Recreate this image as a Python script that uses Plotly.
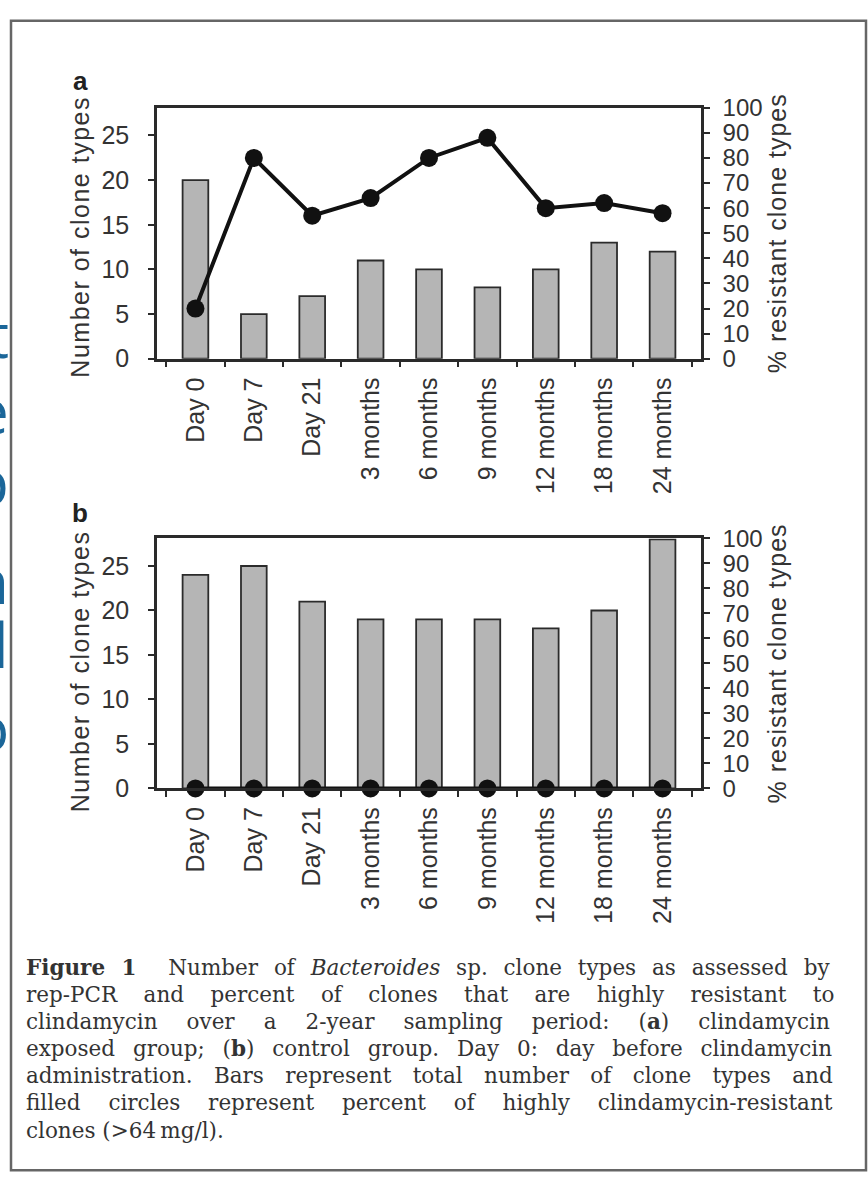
import plotly.graph_objects as go

W, H = 868, 1195

categories = ["Day 0", "Day 7", "Day 21", "3 months", "6 months", "9 months",
              "12 months", "18 months", "24 months"]
clones_a = [20, 5, 7, 11, 10, 8, 10, 13, 12]
resist_a = [20, 80, 57, 64, 80, 88, 60, 62, 58]
clones_b = [24, 25, 21, 19, 19, 19, 18, 20, 28]
resist_b = [0, 0, 0, 0, 0, 0, 0, 0, 0]
left_ticks = [0, 5, 10, 15, 20, 25]
right_ticks = [0, 10, 20, 30, 40, 50, 60, 70, 80, 90, 100]

caption_lines = [
    "<b>Figure 1</b>\u00a0\u00a0Number of <i>Bacteroides</i> sp. clone types as assessed by",
    "rep-PCR and percent of clones that are highly resistant to",
    "clindamycin over a 2-year sampling period: (<b>a</b>) clindamycin",
    "exposed group; (<b>b</b>) control group. Day 0: day before clindamycin",
    "administration. Bars represent total number of clone types and",
    "filled circles represent percent of highly clindamycin-resistant",
    "clones (>64\u2009mg/l).",
]
# extra word spacing (px) per caption line, to imitate the justified block
caption_wordspacing = [9.0, 19.6, 22.2, 11.0, 14.6, 21.0, 0]
side_letters = ["t", "e", "p", "n", "l", "o"]

AX = "#2a2a2a"
TXT = "#333333"
SANS = "Liberation Sans, Arial, sans-serif"
SERIF = "DejaVu Serif, serif"
BAR = "#b5b5b5"

def px_x(v):
    return v / W

def px_y(v):
    return 1 - v / H

x_dom = [px_x(157), px_x(701)]
dom_a = [px_y(353), px_y(96)]
dom_b = [px_y(793), px_y(537)]
LMAX = 28.1

fig = go.Figure()

def add_panel(clones, resist, xa, ya, yr):
    xs = "x" if xa == 1 else f"x{xa}"
    fig.add_trace(go.Bar(
        x=categories, y=clones, xaxis=xs, yaxis=f"y{ya}" if ya > 1 else "y",
        width=0.44, marker=dict(color=BAR, line=dict(color="#2b2b2b", width=1.8)),
        showlegend=False))
    fig.add_trace(go.Scatter(
        x=categories, y=resist, xaxis=xs, yaxis=f"y{yr}",
        mode="lines+markers", line=dict(color="#111111", width=4),
        marker=dict(color="#111111", size=18), cliponaxis=False,
        showlegend=False))

add_panel(clones_a, resist_a, 1, 1, 2)
add_panel(clones_b, resist_b, 2, 5, 6)

tickfont = dict(family=SANS, size=25, color=TXT)
rtickfont = dict(family=SANS, size=24, color=TXT)
xtickfont = dict(family=SANS, size=25, color=TXT)
titlefont = dict(family=SANS, size=25, color=TXT)

def spaced(text, px):
    return f'<span style="letter-spacing:{px}px">{text}</span>'

def xaxis_cfg(anchor):
    return dict(domain=x_dom, anchor=anchor, type="category",
                categoryorder="array", categoryarray=categories,
                tickson="boundaries", ticks="outside", ticklen=6,
                tickwidth=1.5, tickcolor=AX, tickangle=-90,
                tickfont=xtickfont, ticklabelstandoff=6,
                showline=True, mirror=True, linecolor=AX, linewidth=2.5,
                showgrid=False, zeroline=False, fixedrange=True)

def yleft_cfg(dom, xa):
    return dict(domain=dom, anchor=xa, range=[0, LMAX], tickvals=left_ticks,
                ticks="outside", ticklen=6, tickwidth=1.5, tickcolor=AX,
                tickfont=tickfont, ticklabelstandoff=14,
                showline=True, linecolor=AX, linewidth=2.5,
                showgrid=False, zeroline=False)

def yright_cfg(ov, xa):
    return dict(overlaying=ov, side="right", anchor=xa, range=[0, 100],
                tickvals=right_ticks, ticks="outside", ticklen=6, tickwidth=1.5,
                tickcolor=AX, tickfont=rtickfont, ticklabelstandoff=8,
                showline=True, linecolor=AX, linewidth=2.5,
                showgrid=False, zeroline=False,
                title=dict(text=spaced("% resistant clone types", 1.0),
                           font=titlefont, standoff=6))

def inner_cfg(ov, side, rng, vals, xa):
    return dict(overlaying=ov, side=side, anchor=xa, range=rng, tickvals=vals,
                ticks="inside", ticklen=6, tickwidth=1.5, tickcolor=AX,
                showticklabels=False, showline=False, showgrid=False,
                zeroline=False)

fig.update_layout(
    width=W, height=H, margin=dict(l=0, r=0, t=0, b=0),
    paper_bgcolor="white", plot_bgcolor="white",
    bargap=0.56, showlegend=False,
    xaxis=xaxis_cfg("y"),
    xaxis2=xaxis_cfg("y5"),
    yaxis=yleft_cfg(dom_a, "x"),
    yaxis2=yright_cfg("y", "x"),
    yaxis3=inner_cfg("y", "left", [0, LMAX], left_ticks, "x"),
    yaxis4=inner_cfg("y", "right", [0, 100], right_ticks, "x"),
    yaxis5=yleft_cfg(dom_b, "x2"),
    yaxis6=yright_cfg("y5", "x2"),
    yaxis7=inner_cfg("y5", "left", [0, LMAX], left_ticks, "x2"),
    yaxis8=inner_cfg("y5", "right", [0, 100], right_ticks, "x2"),
)

annotations = []
# panel letters
for letter, yy in [("a", 69), ("b", 511)]:
    annotations.append(dict(text=f"<b>{letter}</b>", x=px_x(80), y=px_y(yy),
                            xref="paper", yref="paper", xanchor="center", yanchor="middle",
                            showarrow=False, font=dict(family=SANS, size=26, color="#222")))
# left axis titles
for yy in [228, 673]:
    annotations.append(dict(text=spaced("Number of clone types", 1.5),
                            x=px_x(80), y=px_y(yy), xref="paper", yref="paper",
                            xanchor="center", yanchor="middle", textangle=-90,
                            showarrow=False, font=titlefont))
# caption
for i, (line, ws) in enumerate(zip(caption_lines, caption_wordspacing)):
    annotations.append(dict(text=f'<span style="word-spacing:{ws}px">{line}</span>',
                            x=px_x(24), y=px_y(976 + 27.8 * i),
                            xref="paper", yref="paper", xanchor="left", yanchor="middle",
                            showarrow=False, align="left",
                            font=dict(family=SERIF, size=21.5, color=TXT)))
# clipped blue letters from the background slide at the left edge
letter_y = [328, 405, 478, 580, 645, 730]
for ch, yy in zip(side_letters, letter_y):
    annotations.append(dict(text=ch, x=px_x(11), y=px_y(yy), xref="paper", yref="paper",
                            xanchor="right", yanchor="middle", showarrow=False,
                            font=dict(family="Open Sans, sans-serif", size=62, color="#1b6699")))
fig.update_layout(annotations=annotations)

# outer frame of the figure
fig.add_shape(type="rect", xref="paper", yref="paper",
              x0=px_x(11), x1=px_x(866), y0=px_y(1184), y1=px_y(7),
              line=dict(color="#666666", width=2.5), fillcolor="rgba(0,0,0,0)",
              layer="above")

fig.write_html("out.html",
               config={"displayModeBar": False},
               post_script="document.body.style.margin='0';"
                           "document.body.style.overflow='hidden';")
